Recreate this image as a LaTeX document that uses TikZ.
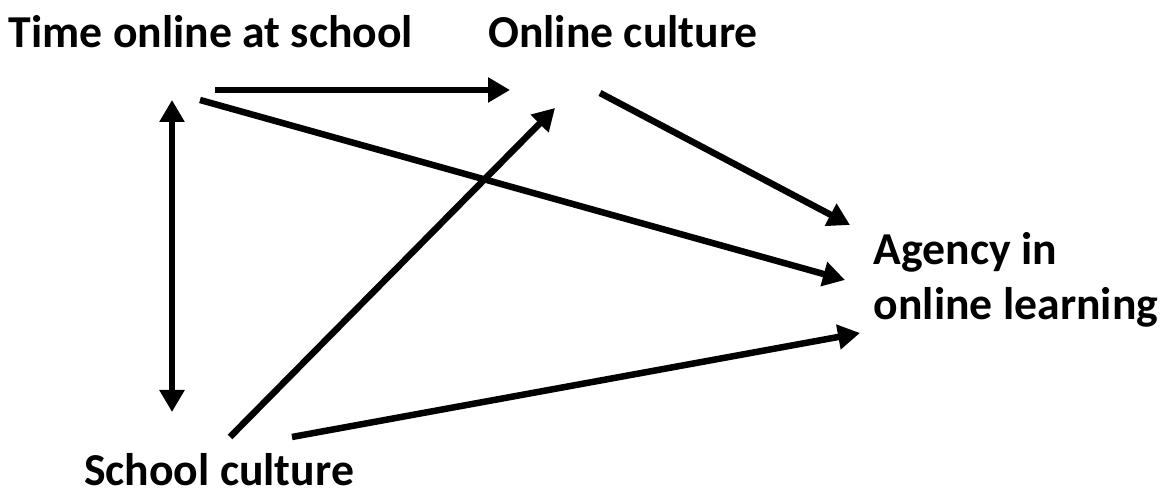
\documentclass[tikz,border=0pt]{standalone}
\usepackage{fontspec}
\setmainfont{Carlito}
\usetikzlibrary{arrows.meta,positioning}

\begin{document}
\begin{tikzpicture}[
    box/.style={font=\bfseries\fontsize{13}{15.5}\selectfont, inner sep=0pt, align=left},
    tip/.tip={Triangle[length=0.22cm,width=0.24cm]},
    link/.style={line width=0.065cm, -tip},
    both/.style={line width=0.065cm, tip-tip}
  ]
    \useasboundingbox (0,0) rectangle (11.7,4.95);

    % variables
    \node[box] (time) at (2.11,4.63) {Time online at school};
    \node[box] (online) at (6.23,4.63) {Online culture};
    \node[box] (agency) at (10.16,2.15) {Agency in\\online learning};
    \node[box] (school) at (2.19,0.25) {School culture};

    % arrow ends
    \coordinate (t1) at (2.15,4.05);
    \coordinate (t2) at (2.00,3.95);
    \coordinate (t3) at (1.72,3.95);
    \coordinate (o1) at (5.10,4.05);
    \coordinate (o2) at (5.55,3.87);
    \coordinate (o3) at (6.00,4.02);
    \coordinate (a1) at (8.50,2.70);
    \coordinate (a2) at (8.45,2.15);
    \coordinate (a3) at (8.60,1.62);
    \coordinate (s1) at (1.72,0.83);
    \coordinate (s2) at (2.30,0.58);
    \coordinate (s3) at (2.92,0.58);

    \draw[link] (t1) -- (o1);
    \draw[link] (t2) -- (a2);
    \draw[link] (o3) -- (a1);
    \draw[link] (s2) -- (o2);
    \draw[link] (s3) -- (a3);
    \draw[both] (t3) -- (s1);
\end{tikzpicture}
\end{document}
